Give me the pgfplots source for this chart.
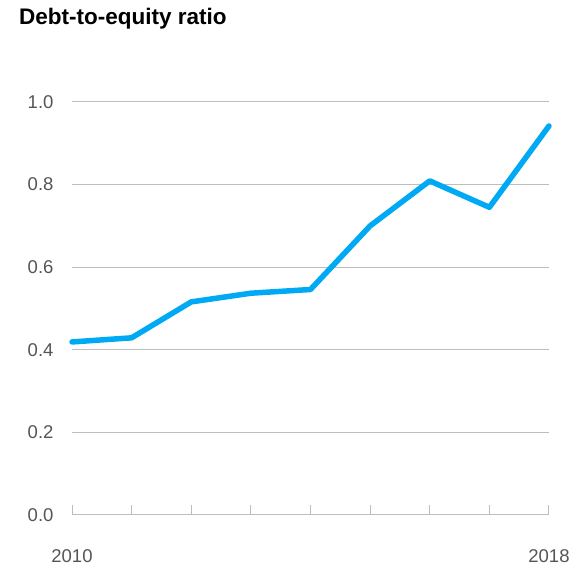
\documentclass[border=0pt]{standalone}
\usepackage{pgfplots}
\pgfplotsset{compat=1.18}
\usepackage{fontspec}
\setmainfont{Liberation Sans}
\definecolor{lineblue}{HTML}{00A9F4}
\definecolor{gridgray}{HTML}{BDBDBD}
\definecolor{labelgray}{HTML}{555555}
\begin{document}
\begin{tikzpicture}[x=1pt,y=1pt]
\path[use as bounding box] (0,0) rectangle (582,575);
\node[anchor=west, font=\bfseries\fontsize{22.5}{26}\selectfont, inner sep=0pt] at (19,556) {Debt-to-equity ratio};
\begin{axis}[
  at={(72pt,60pt)}, anchor=south west,
  scale only axis=true,
  width=477pt, height=413pt,
  xmin=2010, xmax=2018,
  ymin=0, ymax=1,
  xtick={2010,2011,2012,2013,2014,2015,2016,2017,2018},
  xticklabels={2010,,,,,,,,2018},
  ytick={0,0.2,0.4,0.6,0.8,1.0},
  axis x line*=bottom,
  axis y line*=left,
  x axis line style={draw=gridgray, line width=1pt},
  y axis line style={draw=none},
  ytick style={draw=none},
  xtick style={draw=gridgray, line width=1pt},
  major tick length=10pt,
  xtick align=inside,
  ymajorgrids=true,
  grid style={gridgray, line width=1pt},
  tick label style={font=\fontsize{18.5}{20}\selectfont, text=labelgray},
  xticklabel style={yshift=-31pt},
  yticklabel style={xshift=-15pt},
  /pgf/number format/assume math mode=true,
  yticklabel={\pgfmathprintnumber[fixed,fixed zerofill,precision=1]{\tick}},
  xticklabel style={/pgf/number format/1000 sep={}},
  clip=false,
]
\addplot[lineblue, line width=5.5pt, line join=round, line cap=round] coordinates {
  (2010, 0.419)
  (2011, 0.429)
  (2012, 0.516)
  (2013, 0.537)
  (2014, 0.546)
  (2015, 0.700)
  (2016, 0.809)
  (2017, 0.745)
  (2018, 0.942)
};
\end{axis}
\end{tikzpicture}
\end{document}
